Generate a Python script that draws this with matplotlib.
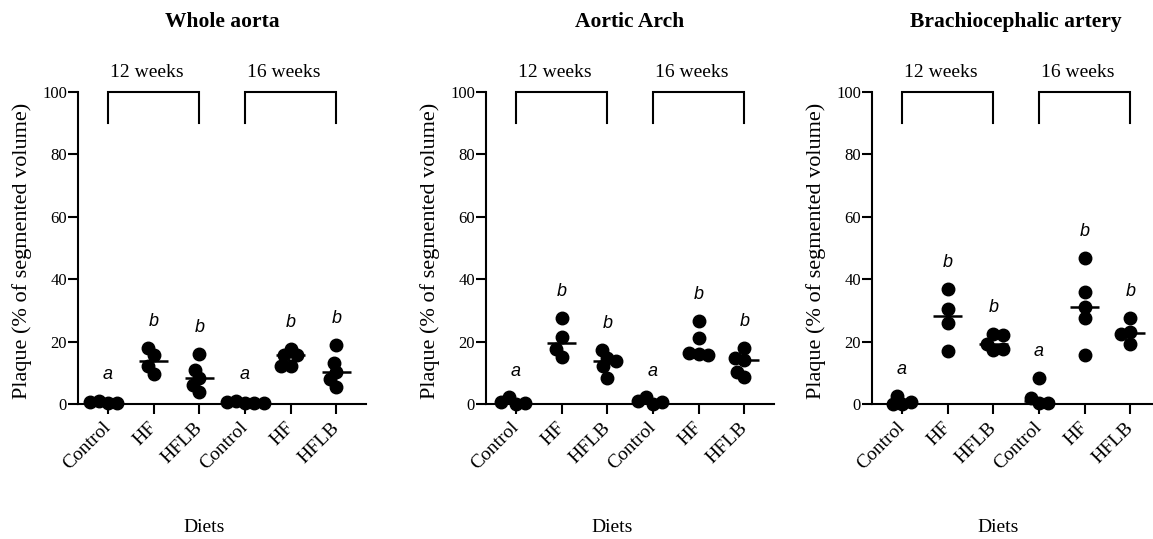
import matplotlib
matplotlib.use("Agg")
import matplotlib.pyplot as plt
import numpy as np

plt.rcParams['font.family'] = ['Liberation Serif', 'DejaVu Serif']

# categories
diets = ["Control", "HF", "HFLB", "Control", "HF", "HFLB"]
weeks = ["12 weeks", "16 weeks"]
letters = ["a", "b", "b", "a", "b", "b"]
titles = ["Whole aorta", "Aortic Arch", "Brachiocephalic artery"]

# plaque (% of segmented volume), one list per diet group
whole_c12 = [0.2, 1.0, 0.3, 0.5]
whole_hf12 = [15.6, 9.7, 18.1, 12.1]
whole_hflb12 = [8.2, 3.9, 16.1, 10.8, 6.0]
whole_c16 = [0.2, 0.9, 0.4, 0.6, 0.3]
whole_hf16 = [17.7, 12.1, 15.6, 15.6, 12.1]
whole_hflb16 = [10.3, 5.5, 19.0, 13.2, 8.1]

arch_c12 = [0.0, 2.1, 0.4, 0.7]
arch_hf12 = [15.1, 27.5, 21.4, 17.5]
arch_hflb12 = [14.8, 12.2, 8.2, 17.2, 13.7]
arch_c16 = [0.0, 2.1, 0.8, 1.1]
arch_hf16 = [15.9, 26.5, 21.2, 16.2, 15.8]
arch_hflb16 = [18.0, 14.2, 8.7, 14.7, 10.4]

bca_c12 = [0.1, 2.7, 0.0, 0.5]
bca_hf12 = [37.0, 30.4, 25.9, 17.0]
bca_hflb12 = [17.2, 19.3, 22.5, 22.0, 17.7]
bca_c16 = [0.2, 8.4, 1.8, 0.4]
bca_hf16 = [46.9, 35.9, 31.2, 27.5, 15.8]
bca_hflb16 = [27.5, 23.1, 19.2, 22.5]

panels = [
    [whole_c12, whole_hf12, whole_hflb12, whole_c16, whole_hf16, whole_hflb16],
    [arch_c12, arch_hf12, arch_hflb12, arch_c16, arch_hf16, arch_hflb16],
    [bca_c12, bca_hf12, bca_hflb12, bca_c16, bca_hf16, bca_hflb16],
]

MS = 9  # marker diameter in points


def swarm(ax, values, diam_px):
    # simple beeswarm: put each point as close to the centre as it can go
    p0 = ax.transData.transform((0, 0))
    p1 = ax.transData.transform((1, 1))
    sx, sy = p1[0] - p0[0], p1[1] - p0[1]
    placed = []
    offs = []
    for v in values:
        y = v * sy
        cands = [0.0]
        for px, py in placed:
            dy = y - py
            if abs(dy) < diam_px:
                dx = np.sqrt(diam_px ** 2 - dy ** 2)
                cands += [px - dx, px + dx]
        good = [c for c in cands
                if all((c - px) ** 2 + (y - py) ** 2 >= diam_px ** 2 - 1e-6 for px, py in placed)]
        best = min(good, key=lambda c: (abs(c), c))
        placed.append((best, y))
        offs.append(best / sx)
    return np.array(offs)


fig = plt.figure(figsize=(11.53, 5.39), dpi=100)
lefts = [78, 486, 872]
W, H = 1153.0, 539.0

for k, (title, groups) in enumerate(zip(titles, panels)):
    ax = fig.add_axes([lefts[k] / W, 1 - 404 / H, 288 / W, 312 / H])
    ax.set_xlim(-0.656, 5.646)
    ax.set_ylim(0, 100)

    diam_px = MS * fig.dpi / 72 * 0.75
    for i, vals in enumerate(groups):
        vals = np.array(vals)
        xs = i + swarm(ax, vals, diam_px)
        ax.plot(xs, vals, 'o', color='black', ms=MS, clip_on=False, zorder=3)
        med = np.median(vals)
        ax.plot([i - 0.32, i + 0.32], [med, med], color='black', lw=1.8, zorder=4,
                solid_capstyle='butt')
        ax.text(i, vals.max() + 7, letters[i], ha='center', va='baseline',
                fontsize=13, style='italic', family=['Liberation Sans', 'DejaVu Sans'])

    # week brackets
    for j, wk in enumerate(weeks):
        x0, x1 = 3 * j, 3 * j + 2
        ax.plot([x0, x0, x1, x1], [90, 100, 100, 90], color='black', lw=1.5,
                clip_on=False, solid_joinstyle='miter')
        ax.text(x0 + 0.05, 104.8, wk, ha='left', va='baseline', fontsize=14)

    ax.text(0.5, 1.208, title, transform=ax.transAxes, ha='center', va='baseline',
            fontsize=15.5, fontweight='bold')

    for s in ['top', 'right']:
        ax.spines[s].set_visible(False)
    for s in ['left', 'bottom']:
        ax.spines[s].set_linewidth(1.5)

    ax.set_yticks([0, 20, 40, 60, 80, 100])
    ax.tick_params(axis='y', direction='out', length=7, width=1.5, labelsize=12, pad=1)
    ax.set_xticks(range(len(diets)))
    ax.set_xticklabels(diets, rotation=45, ha='right', va='center',
                       rotation_mode='anchor', fontsize=14)
    ax.tick_params(axis='x', direction='out', length=7, width=1.5, pad=8)

    ax.set_ylabel("Plaque (% of segmented volume)", fontsize=16)
    ax.yaxis.set_label_coords(-0.16, 0.49)
    ax.set_xlabel("Diets", fontsize=14)
    ax.xaxis.set_label_coords(0.4375, -0.37)

fig.savefig("out.png", dpi=100)
